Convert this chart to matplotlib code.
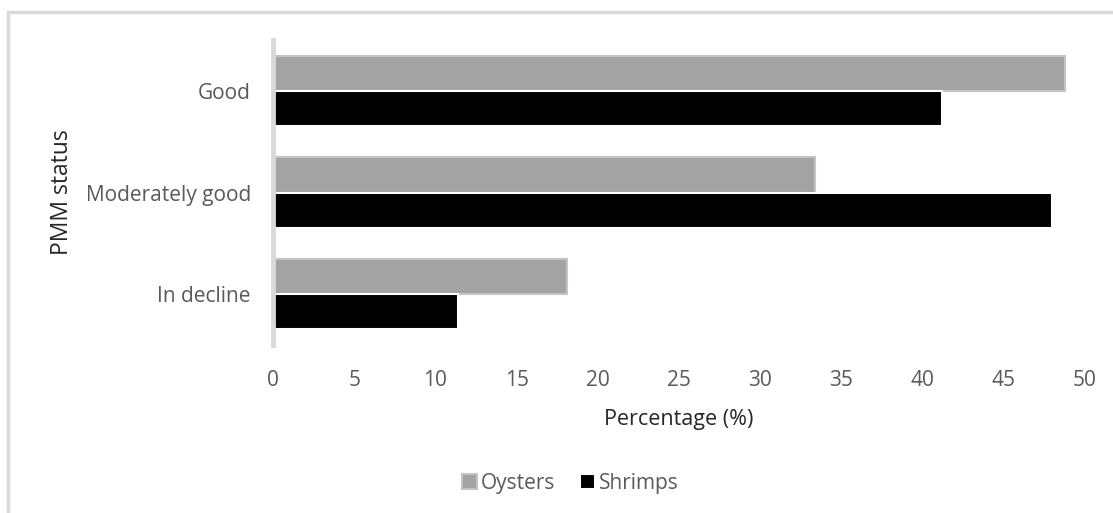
import numpy as np
import matplotlib.pyplot as plt
from matplotlib.patches import Rectangle

plt.rcParams['font.family'] = ['Open Sans', 'DejaVu Sans']

statuses = ["Good", "Moderately good", "In decline"]
oysters = [48.8, 33.4, 18.1]
shrimps = [41.2, 48.0, 11.4]
xticks = [0, 5, 10, 15, 20, 25, 30, 35, 40, 45, 50]

text_col = "#595959"

fig = plt.figure(figsize=(11.13, 5.13), dpi=100)
ax = fig.add_axes([0.2453, 0.3275, 0.7295, 0.5945])

# outer chart frame (only top and left edges fall inside the image)
fig.patches.append(Rectangle((8 / 1113, -0.1), 1.2, 1 - 12 / 513 + 0.1,
                             transform=fig.transFigure, fill=False,
                             edgecolor="#d9d9d9", linewidth=2.5))

pos = np.arange(len(statuses))[::-1]
h = 0.345
ax.barh(pos + h / 2, oysters, height=h, color="#a3a3a3",
        edgecolor="#c4c4c4", linewidth=1.5, label="Oysters")
ax.barh(pos - h / 2, shrimps, height=h, color="black",
        edgecolor="white", linewidth=1.5, label="Shrimps")

ax.set_xlim(0, 50)
ax.set_ylim(-0.5, 2.5)
ax.set_xticks(xticks)
ax.set_yticks(pos)
ax.set_yticklabels(statuses)
ax.tick_params(axis="x", length=0, pad=18, labelsize=15, labelcolor=text_col)
ax.tick_params(axis="y", length=0, pad=16, labelsize=15, labelcolor=text_col)

for s in ["top", "right", "bottom"]:
    ax.spines[s].set_visible(False)
ax.spines["left"].set_color("#d9d9d9")
ax.spines["left"].set_linewidth(3.5)

ax.set_xlabel("Percentage (%)", fontsize=15.5, color="#262626", labelpad=13)
ax.set_ylabel("PMM status", fontsize=16.5, color="#262626")
ax.yaxis.set_label_coords(74 / 1113, 1 - 192 / 513, transform=fig.transFigure)

fig.legend(loc="center", bbox_to_anchor=(570 / 1113, 1 - 483 / 513), ncol=2,
           frameon=False, fontsize=15, handlelength=0.75, handleheight=0.75,
           handletextpad=0.15, columnspacing=1.2, labelcolor=text_col)

fig.savefig("out.png", dpi=100)
